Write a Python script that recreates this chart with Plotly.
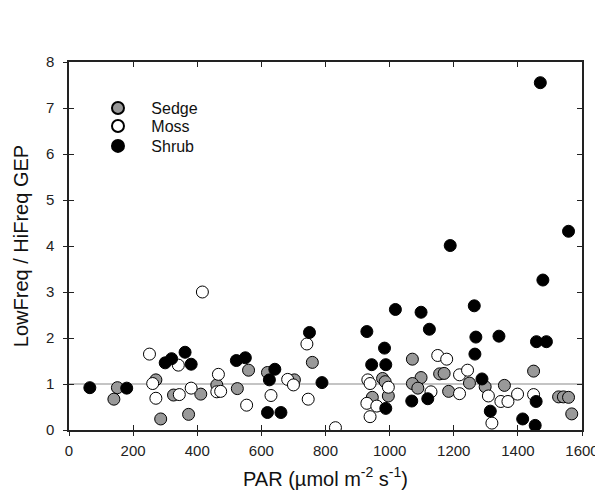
import plotly.graph_objects as go

# ---- data ----
sedge_par = [151, 140, 271, 286, 326, 373, 411, 461, 525, 560, 619, 703, 759,
             946, 978, 986, 996, 1071, 1098, 1071, 1088, 1156, 1170, 1184, 1249,
             1298, 1358, 1449, 1527, 1542, 1558, 1568]
sedge_ratio = [0.92, 0.67, 1.09, 0.24, 0.76, 0.34, 0.78, 0.98, 0.90, 1.30, 1.25, 1.09, 1.47,
               0.71, 1.12, 1.05, 0.74, 1.54, 1.14, 1.01, 0.91, 1.22, 1.23, 0.84, 1.02,
               0.94, 0.97, 1.28, 0.72, 0.72, 0.71, 0.35]

moss_par = [251, 261, 271, 341, 344, 381, 416, 466, 461, 473, 554, 630, 682, 700,
            742, 746, 831, 932, 939, 996, 929, 960, 939, 1129, 1150, 1178, 1218,
            1243, 1218, 1308, 1319, 1347, 1369, 1399, 1449]
moss_ratio = [1.65, 1.01, 0.69, 1.41, 0.77, 0.91, 3.00, 1.21, 0.83, 0.84, 0.54, 0.75, 1.10, 0.98,
              1.87, 0.67, 0.05, 1.09, 1.01, 0.93, 0.58, 0.52, 0.29, 0.83, 1.62, 1.54, 1.20,
              1.30, 0.79, 0.74, 0.15, 0.62, 0.62, 0.78, 0.77]

shrub_par = [65, 180, 300, 320, 362, 381, 522, 550, 625, 642, 619, 661, 750, 789,
             929, 984, 944, 988, 988, 1018, 1098, 1124, 1069, 1119, 1189, 1264, 1269,
             1266, 1288, 1341, 1314, 1415, 1454, 1457, 1458, 1489, 1478, 1470, 1558]
shrub_ratio = [0.92, 0.91, 1.46, 1.55, 1.69, 1.43, 1.51, 1.57, 1.09, 1.32, 0.38, 0.38, 2.12, 1.03,
               2.14, 1.78, 1.42, 1.42, 0.47, 2.62, 2.56, 2.19, 0.63, 0.68, 4.01, 2.70, 2.02,
               1.65, 1.11, 2.04, 0.41, 0.24, 0.10, 0.62, 1.92, 1.92, 3.26, 7.55, 4.32]

x_ticks = [0, 200, 400, 600, 800, 1000, 1200, 1400, 1600]
y_ticks = [0, 1, 2, 3, 4, 5, 6, 7, 8]
ref_level = 1

FONT = "Liberation Sans, Arial, sans-serif"
AX = "#222222"

fig = go.Figure()

# reference line at ratio = 1
fig.add_trace(go.Scatter(x=[x_ticks[0], x_ticks[-1]], y=[ref_level, ref_level], mode="lines",
                         line=dict(color="#8a8a8a", width=1.2), showlegend=False, hoverinfo="skip"))

series = [("Sedge", sedge_par, sedge_ratio, "#999999", "legend"),
          ("Moss", moss_par, moss_ratio, "#ffffff", "legend2"),
          ("Shrub", shrub_par, shrub_ratio, "#000000", "legend3")]
for name, xs, ys, col, lg in series:
    fig.add_trace(go.Scatter(x=xs, y=ys, mode="markers", name="   " + name, legend=lg,
                             marker=dict(size=12, color=col, line=dict(color="#000000", width=1))))

# helper trace for the outward tick overlay axes
fig.add_trace(go.Scatter(x=[None], y=[None], xaxis="x2", yaxis="y2", showlegend=False,
                         hoverinfo="skip"))

xr = [x_ticks[0], x_ticks[-1]]
yr = [y_ticks[0], y_ticks[-1]]

def leg(ypos):
    return dict(x=0.0565, y=ypos, xanchor="left", yanchor="top",
                bgcolor="rgba(0,0,0,0)", font=dict(size=16, color="#111"),
                itemsizing="constant")

fig.update_layout(
    width=595, height=492,
    margin=dict(l=61, r=21, t=54, b=70, autoexpand=False),
    paper_bgcolor="white", plot_bgcolor="white",
    font=dict(family=FONT, size=15, color=AX),
    showlegend=True,
    legend=leg(0.921),
    legend2=leg(0.8722),
    legend3=leg(0.818),
    xaxis=dict(range=xr, tickvals=x_ticks, ticks="inside", ticklen=5, tickwidth=1,
               tickcolor=AX, showline=True, linecolor=AX, linewidth=1.5, mirror="ticks",
               showgrid=False, zeroline=False, ticklabelstandoff=6, automargin=False,
               tickfont=dict(size=15, color=AX),
               title=dict(text="PAR (µmol m<sup>-2</sup> s<sup>-1</sup>)", standoff=14,
                          font=dict(size=20, color="#111"))),
    yaxis=dict(range=yr, tickvals=y_ticks, ticks="inside", ticklen=5, tickwidth=1,
               tickcolor=AX, showline=True, linecolor=AX, linewidth=1.5, mirror="ticks",
               showgrid=False, zeroline=False, ticklabelstandoff=10, automargin=False,
               tickfont=dict(size=15, color=AX),
               title=dict(text="LowFreq / HiFreq GEP", standoff=12,
                          font=dict(size=20, color="#111"))),
    xaxis2=dict(range=xr, tickvals=x_ticks, overlaying="x", anchor="y2", side="bottom",
                ticks="outside", ticklen=5, tickwidth=1, tickcolor=AX, automargin=False,
                showticklabels=False, showline=False, showgrid=False, zeroline=False),
    yaxis2=dict(range=yr, tickvals=y_ticks, overlaying="y", anchor="x2", side="left",
                ticks="outside", ticklen=5, tickwidth=1, tickcolor=AX, automargin=False,
                showticklabels=False, showline=False, showgrid=False, zeroline=False),
)

fig.write_html("out.html")
